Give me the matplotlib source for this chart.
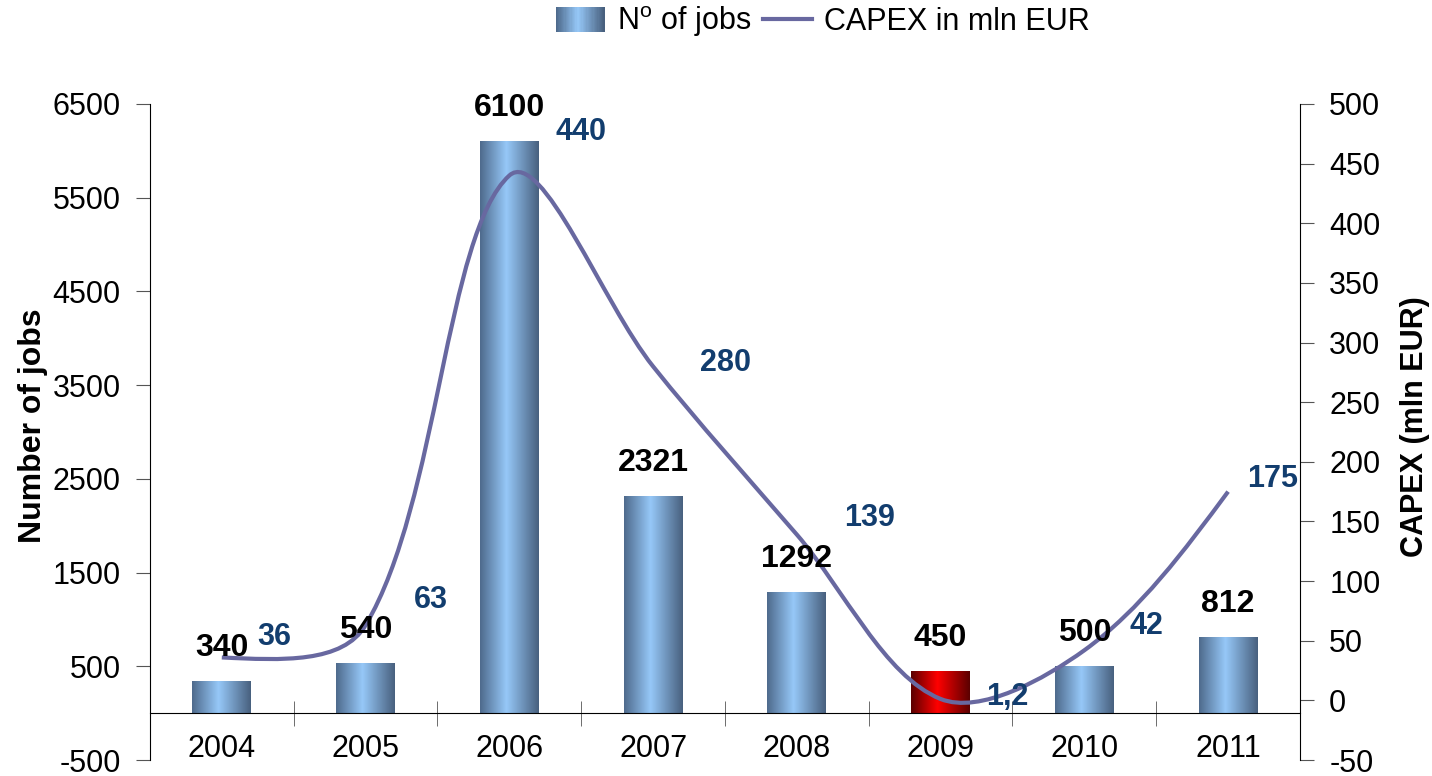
import numpy as np
import matplotlib
matplotlib.use("Agg")
import matplotlib.pyplot as plt
from matplotlib.colors import LinearSegmentedColormap
from matplotlib.patches import Rectangle, PathPatch
from matplotlib.path import Path
from matplotlib.lines import Line2D
from matplotlib.legend_handler import HandlerBase

plt.rcParams['font.family'] = ['Liberation Sans', 'DejaVu Sans']
plt.rcParams['mathtext.fontset'] = 'custom'
plt.rcParams['mathtext.rm'] = 'Liberation Sans'
plt.rcParams['axes.unicode_minus'] = False

years = ['2004', '2005', '2006', '2007', '2008', '2009', '2010', '2011']
jobs = [340, 540, 6100, 2321, 1292, 450, 500, 812]
capex = [36, 63, 440, 280, 139, 1.2, 42, 175]
capex_labels = ['36', '63', '440', '280', '139', '1,2', '42', '175']
highlight = '2009'

# pixel offsets of the CAPEX value labels from their points
capex_offsets = [(52, 20), (65, 25), (72, 44), (72, 3), (73, 17), (67, 2), (62, 24), (45, 13)]

blue_cmap = LinearSegmentedColormap.from_list(
    'b', [(0, '#4e6a8c'), (0.45, '#96c8f8'), (1, '#48607e')], N=256)
red_cmap = LinearSegmentedColormap.from_list(
    'r', [(0, '#5a0000'), (0.45, '#ff0000'), (1, '#5a0000')], N=256)
line_color = '#6868a0'
label_blue = '#123d6e'

fig = plt.figure(figsize=(14.32, 7.76), dpi=100)
ax = fig.add_axes([0.1047, 0.0206, 0.8031, 0.8454])
ax2 = ax.twinx()

x = np.arange(len(years))
width = 0.41
bars = ax.bar(x, jobs, width, color='none', edgecolor='none', zorder=2)
grad = np.linspace(0, 1, 256).reshape(1, -1)
for yr, b in zip(years, bars):
    cmap = red_cmap if yr == highlight else blue_cmap
    im = ax.imshow(grad, cmap=cmap, aspect='auto', zorder=2,
                   extent=[b.get_x(), b.get_x() + b.get_width(), 0, b.get_height()])
    im.set_clip_path(b)

ax.set_xlim(-0.5, len(years) - 0.5)
ax.set_ylim(-500, 6500)
ax.set_yticks(np.arange(-500, 6501, 1000))
ax2.set_ylim(-50, 500)
ax2.set_yticks(np.arange(-50, 501, 50))

# smoothed CAPEX line: Bezier through the points, tangents weighted by
# on-screen segment lengths (like a spreadsheet "smoothed line")
to_px = ax2.transData
pts = to_px.transform(np.column_stack([x, capex]).astype(float))
n = len(pts)
seg = np.hypot(*np.diff(pts, axis=0).T)
c_out = [None] * n
c_in = [None] * n
for i in range(1, n - 1):
    t = pts[i + 1] - pts[i - 1]
    tot = seg[i - 1] + seg[i]
    c_in[i] = pts[i] - t / 3 * seg[i - 1] / tot
    c_out[i] = pts[i] + t / 3 * seg[i] / tot
c_out[0] = pts[0] + (c_in[1] - pts[0]) / 2
c_in[-1] = pts[-1] + (c_out[-2] - pts[-1]) / 2
verts = [pts[0]]
codes = [Path.MOVETO]
for i in range(n - 1):
    verts += [c_out[i], c_in[i + 1], pts[i + 1]]
    codes += [Path.CURVE4] * 3
verts = to_px.inverted().transform(np.array(verts))
ax2.add_patch(PathPatch(Path(verts, codes), fill=False, edgecolor=line_color,
                        lw=3, capstyle='butt', zorder=3))

for i, v in enumerate(jobs):
    ax2.annotate(str(v), xy=(i, v), xycoords=ax.transData, xytext=(0, 33),
                 textcoords='offset pixels', ha='center', va='center',
                 fontsize=23, fontweight='bold', color='black', zorder=5)
for i, (v, lab) in enumerate(zip(capex, capex_labels)):
    ax2.annotate(lab, xy=(i, v), xytext=capex_offsets[i], textcoords='offset pixels',
                 ha='center', va='center', fontsize=22, fontweight='bold',
                 color=label_blue, zorder=5)

# axes styling
for s in ['top', 'right']:
    ax.spines[s].set_visible(False)
ax.spines['bottom'].set_position(('data', 0))
for s in ['top', 'left', 'bottom']:
    ax2.spines[s].set_visible(False)
ax.set_xticks(x)
ax.set_xticklabels(years)
ax.set_xticks(np.arange(0.5, len(years) - 1, 1), minor=True)
ax.tick_params(axis='x', which='major', length=0, pad=15, labelsize=22)
ax.tick_params(axis='x', which='minor', direction='inout', length=18, color='#555555')
ax.tick_params(axis='y', labelsize=22, length=10, pad=11, direction='out', color='#555555')
ax2.tick_params(axis='y', labelsize=22, length=10, pad=11, direction='out', color='#555555')
ax.set_ylabel('Number of jobs', fontsize=23, fontweight='bold')
ax2.set_ylabel('CAPEX (mln EUR)', fontsize=22, fontweight='bold')
ax.yaxis.set_label_coords(-0.0885, 0.51)
ax2.yaxis.set_label_coords(1.0868, 0.508)


class GradientHandler(HandlerBase):
    def create_artists(self, legend, orig, xd, yd, w, h, fontsize, trans):
        k_max = 40
        arts = []
        for k in range(k_max):
            r = Rectangle((xd + w * k / k_max, yd - h * 0.1), w / k_max + 0.2, h * 1.2,
                          facecolor=blue_cmap(k / (k_max - 1)), edgecolor='none',
                          transform=trans)
            arts.append(r)
        return arts


bar_handle = Rectangle((0, 0), 1, 1)
line_handle = Line2D([], [], color=line_color, lw=3)
fig.legend([bar_handle, line_handle], [r'N$^{\mathrm{o}}$ of jobs', 'CAPEX in mln EUR'],
           handler_map={Rectangle: GradientHandler()}, loc='center',
           bbox_to_anchor=(0.5747, 0.972), ncol=2, frameon=False, fontsize=22,
           handlelength=1.6, handletextpad=0.4, columnspacing=0.4)

fig.savefig('out.png', dpi=100)
